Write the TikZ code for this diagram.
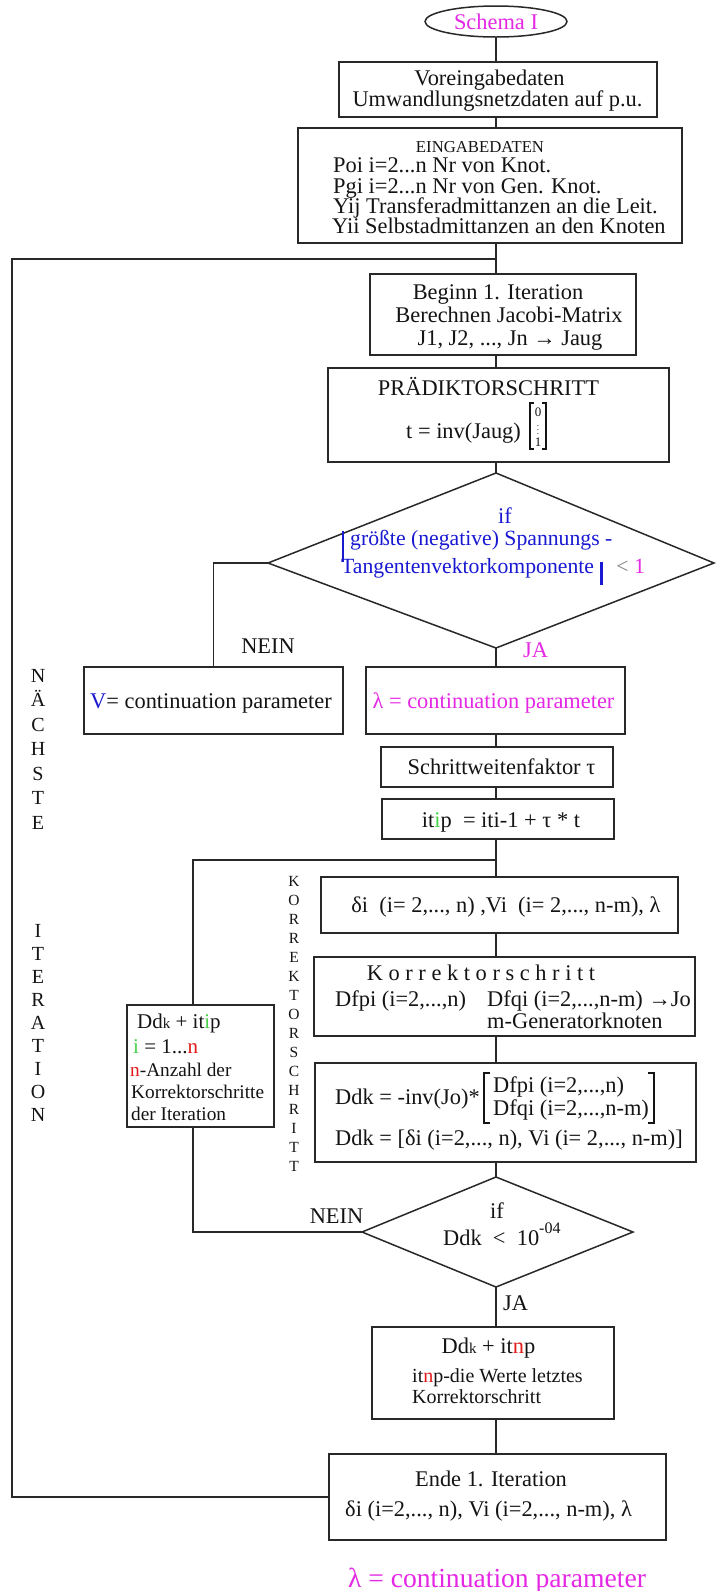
\documentclass[tikz,border=0pt]{standalone}
\usepackage{fontspec}
\setmainfont{Liberation Serif}
\usetikzlibrary{shapes.geometric,calc}
\definecolor{mag}{RGB}{228,40,228}
\definecolor{blu}{RGB}{25,25,210}
\definecolor{rd}{RGB}{225,25,25}
\definecolor{grn}{RGB}{70,210,70}
\definecolor{ln}{RGB}{40,40,40}
\definecolor{txt}{RGB}{20,20,20}
\newcommand\fsz[2]{\fontsize{#1}{#2}\selectfont}
\newcommand\smk{{\fsz{15}{15}k}}
\begin{document}
\begin{tikzpicture}[x=1pt,y=-1pt,
  bx/.style={draw=ln, line width=1.5pt, inner sep=0pt, rectangle},
  tx/.style={inner sep=0pt, anchor=base, text=txt, font=\fsz{22.4}{22}},
  txl/.style={tx, anchor=base west},
  conn/.style={draw=ln, line width=1.5pt},
  vlet/.style={inner sep=0pt, anchor=base, text=txt, font=\fsz{20}{20}},
  klet/.style={inner sep=0pt, anchor=base, text=txt, font=\fsz{15.5}{15}},
  brk/.style={draw=txt, line width=1.1pt}
]
\fill[white] (0,0) rectangle (718,1591);
\useasboundingbox (0,0) rectangle (718,1591);

% main axis and junctions
\coordinate (mx) at (496,0);
\coordinate (lx) at (12,0);
\coordinate (lftx) at (193,0);
\coordinate (jt) at (496,259);
\coordinate (jk) at (496,860);

% boxes
\node[ellipse, draw=ln, line width=1.5pt, minimum width=142pt, minimum height=31pt, inner sep=0pt, text=mag, font=\fsz{22.4}{22}] (ell) at (496,21.5) {Schema I};
\node[bx, minimum width=318pt, minimum height=55pt] (b1) at (498,89.5) {};
\node[bx, minimum width=384pt, minimum height=115pt] (b2) at (490,185.5) {};
\node[bx, minimum width=266pt, minimum height=81pt] (beg) at (503,314.5) {};
\node[bx, minimum width=341pt, minimum height=94pt] (pr) at (498.5,415) {};
\node[bx, minimum width=259pt, minimum height=67pt] (vb) at (213.5,700.5) {};
\node[bx, minimum width=259pt, minimum height=67pt] (lb) at (495.5,700.5) {};
\node[bx, minimum width=232pt, minimum height=40pt] (sw) at (497,767) {};
\node[bx, minimum width=232pt, minimum height=40pt] (itb) at (498,819) {};
\node[bx, minimum width=357pt, minimum height=56pt] (dl) at (499.5,905) {};
\node[bx, minimum width=381pt, minimum height=79pt] (ko) at (504.5,996.5) {};
\node[bx, minimum width=381pt, minimum height=99pt] (dd) at (505.5,1112.5) {};
\node[bx, minimum width=147pt, minimum height=122pt] (lft) at (200.5,1066) {};
\node[bx, minimum width=242pt, minimum height=92pt] (itn) at (493,1373) {};
\node[bx, minimum width=337pt, minimum height=86pt] (ende) at (497.5,1497) {};

% diamonds
\coordinate (d1t) at (496,473);
\coordinate (d1l) at (268,563);
\coordinate (d1r) at (714,563);
\coordinate (d1b) at (496,648);
\draw[conn] (d1t) -- (d1r) -- (d1b) -- (d1l) -- cycle;
\coordinate (d2t) at (496,1177);
\coordinate (d2l) at (362,1232);
\coordinate (d2r) at (633,1232);
\coordinate (d2b) at (496,1287);
\draw[conn] (d2t) -- (d2r) -- (d2b) -- (d2l) -- cycle;

% connectors
\draw[conn] (ell.south) -- (b1.north -| mx);
\draw[conn] (b1.south -| mx) -- (b2.north -| mx);
\draw[conn] (b2.south -| mx) -- (beg.north -| mx);
\draw[conn] (ende.west) -- (ende.west -| lx) -- (jt -| lx) -- (jt);
\draw[conn] (beg.south -| mx) -- (pr.north -| mx);
\draw[conn] (pr.south -| mx) -- (d1t);
\draw[conn] (d1l) -| (vb.north);
\draw[conn] (d1b) -- (lb.north -| mx);
\draw[conn] (lb.south -| mx) -- (sw.north -| mx);
\draw[conn] (sw.south -| mx) -- (itb.north -| mx);
\draw[conn] (itb.south -| mx) -- (dl.north -| mx);
\draw[conn] (jk) -- (jk -| lftx) -- (lft.north -| lftx);
\draw[conn] (lft.south -| lftx) -- (d2l -| lftx) -- (d2l);
\draw[conn] (dl.south -| mx) -- (ko.north -| mx);
\draw[conn] (ko.south -| mx) -- (dd.north -| mx);
\draw[conn] (dd.south -| mx) -- (d2t);
\draw[conn] (d2b) -- (itn.north -| mx);
\draw[conn] (itn.south -| mx) -- (ende.north -| mx);

% texts box 1, 2
\node[tx] (t1a) at (489.5,85) {Voreingabedaten};
\node[tx] (t1b) at (497.5,106.5) {Umwandlungsnetzdaten auf p.u.};
\node[tx, font=\fsz{16.7}{16}] (t2a) at (480,152.5) {EINGABEDATEN};
\node[txl] (t2b) at (333,172.7) {Poi i=2...n Nr von Knot.};
\node[txl] (t2c) at (333,193) {Pgi i=2...n Nr von Gen. Knot.};
\node[txl] (t2d) at (333,213.3) {Yij Transferadmittanzen an die Leit.};
\node[txl] (t2e) at (332,233.3) {Yii Selbstadmittanzen an den Knoten};

% Beginn
\node[tx] (t3a) at (498,299) {Beginn 1. Iteration};
\node[tx] (t3b) at (509,322) {Berechnen Jacobi-Matrix};
\node[tx] (t3c) at (510,345) {J1, J2, ..., Jn → Jaug};

% Praediktor
\node[tx] (t4a) at (488.5,395) {PRÄDIKTORSCHRITT};
\node[txl] (t4b) at (406,438) {t = inv(Jaug)};
\draw[brk] (534,403) -- (530,403) -- (530,449) -- (534,449);
\draw[brk] (542,403) -- (546,403) -- (546,449) -- (542,449);
\node[inner sep=0pt, text=txt, font=\fsz{13}{13}] (v0) at (538,412) {0};
\node[inner sep=0pt, text=txt, font=\fsz{9}{9}] (vd) at (538,427) {$\vdots$};
\node[inner sep=0pt, text=txt, font=\fsz{13}{13}] (v1) at (538,442) {1};

% diamond 1 texts
\node[tx, text=blu] (t5a) at (505,523) {if};
\node[txl, text=blu, font=\fsz{21.7}{21}] (t5b) at (350,545) {größte (negative) Spannungs -};
\node[txl, text=blu, font=\fsz{21.7}{21}] (t5c) at (341,573) {Tangentenvektorkomponente};
\draw[blu, line width=2.8pt] ($(t5b.base west)+(-7,-14)$) -- ($(t5b.base west)+(-7,17)$);
\draw[blu, line width=2.8pt] ($(t5c.base east)+(7,-11)$) -- ($(t5c.base east)+(7,12)$);
\node[txl, font=\fsz{21.7}{21}] (t5d) at ($(t5c.base east)+(22,0)$) {\textcolor{gray}{<} \textcolor{mag}{1}};
\node[tx] (n1) at (268,653) {NEIN};
\node[tx, text=mag] (ja1) at (535.5,657) {JA};

% V / lambda
\node[tx] (t6) at (211,708) {\textcolor{blu}{V}= continuation parameter};
\node[tx, text=mag] (t7) at (493.5,708) {λ = continuation parameter};

% Schritt, itip, delta
\node[tx] (t8) at (501.5,774) {Schrittweitenfaktor τ};
\node[tx] (t9) at (501,827) {it\textcolor{grn}{i}p\ \ = iti-1 + τ * t};
\node[tx] (t10) at (506,912) {δi\ \ (i= 2,..., n) ,Vi\ \ (i= 2,..., n-m), λ};

% Korrektor
\node[tx] (t11a) at (481,980) {K o r r e k t o r s c h r i t t};
\node[txl] (t11b) at (335,1006) {Dfpi (i=2,...,n)};
\node[txl] (t11c) at (487,1006) {Dfqi (i=2,...,n-m) →Jo};
\node[txl] (t11d) at (487,1028) {m-Generatorknoten};

% Ddk
\node[txl] (t12a) at (335,1104) {Ddk = -inv(Jo)*};
\node[txl] (t12b) at (493,1092) {Dfpi (i=2,...,n)};
\node[txl] (t12c) at (493,1115) {Dfqi (i=2,...,n-m)};
\node[txl] (t12d) at (335,1145) {Ddk = [δi (i=2,..., n), Vi (i= 2,..., n-m)]};
\draw[brk] (490,1073) -- (484,1073) -- (484,1123) -- (490,1123);
\draw[brk] (648,1073) -- (654,1073) -- (654,1123) -- (648,1123);

% diamond 2
\node[tx] (t13a) at (497,1218) {if};
\node[txl] (t13b) at (443,1245) {Ddk\ \ <\ \ 10\raisebox{12pt}{\fsz{16}{16}-04}};
\node[tx] (n2) at (336.5,1223) {NEIN};
\node[txl] (ja2) at (503,1310) {JA};

% left box
\node[txl, font=\fsz{21}{21}] (t14a) at (137,1028) {Dd\smk{} + it\textcolor{grn}{i}p};
\node[txl, font=\fsz{21}{21}] (t14b) at (133,1053) {\textcolor{grn}{i} = 1...\textcolor{rd}{n}};
\node[txl, font=\fsz{19.3}{19}] (t14c) at (130,1076) {\textcolor{rd}{n}-Anzahl der};
\node[txl, font=\fsz{19.3}{19}] (t14d) at (131,1098) {Korrektorschritte};
\node[txl, font=\fsz{19.3}{19}] (t14e) at (131,1120) {der Iteration};

% itnp
\node[tx] (t15a) at (488.5,1353) {Dd\smk{} + it\textcolor{rd}{n}p};
\node[txl, font=\fsz{20}{20}] (t15b) at (412,1382) {it\textcolor{rd}{n}p-die Werte letztes};
\node[txl, font=\fsz{20}{20}] (t15c) at (412,1403) {Korrektorschritt};

% Ende
\node[tx] (t16a) at (491,1486) {Ende 1. Iteration};
\node[txl] (t16b) at (345,1516) {δi (i=2,..., n), Vi (i=2,..., n-m), λ};

% legend
\node[tx, text=mag, font=\fsz{27.6}{27}] (leg) at (497,1587) {λ = continuation parameter};

% vertical letters
\foreach \c [count=\i from 0] in {N,Ä,C,H,S,T,E}
  \node[vlet] (na\i) at (38,682+24.5*\i) {\c};
\foreach \c [count=\i from 0] in {I,T,E,R,A,T,I,O,N}
  \node[vlet] (itl\i) at (38,937+23*\i) {\c};
\foreach \c [count=\i from 0] in {K,O,R,R,E,K,T,O,R,S,C,H,R,I,T,T}
  \node[klet] (kl\i) at (294,886+19*\i) {\c};
\end{tikzpicture}
\end{document}
